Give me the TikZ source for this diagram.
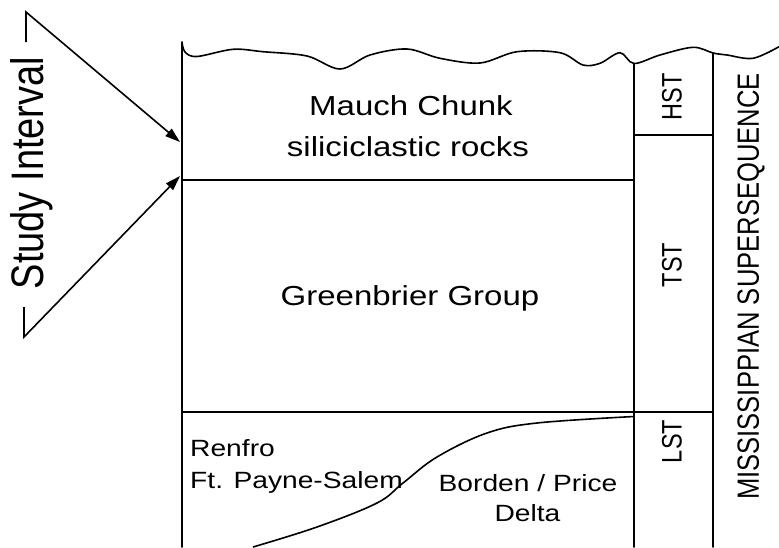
\documentclass[tikz,border=0pt]{standalone}
\usepackage{fontspec}
\setmainfont{Liberation Sans}
\usepackage{graphicx}
\usetikzlibrary{arrows.meta}
\newcommand\HStr[1]{\scalebox{1.2}[1]{#1}}
\newcommand\VStr[1]{\scalebox{1}[1.2]{#1}}
\begin{document}
\begin{tikzpicture}[x=1pt,y=-1pt,
  rule/.style={line width=1.9pt, line cap=round},
  wave/.style={line width=1.6pt, line join=round},
  big/.style={inner sep=0pt, font=\fontsize{27.5}{33}\selectfont},
  mid/.style={inner sep=0pt, font=\fontsize{23.5}{28}\selectfont},
  tract/.style={inner sep=0pt, rotate=90, font=\fontsize{23.5}{28}\selectfont},
  arr/.style={line width=1.6pt, line join=miter, -{Triangle[length=15pt,width=9.5pt]}}]
\useasboundingbox (0,0) rectangle (779,547);
% frame coordinates
\coordinate (tl) at (182,42);
\coordinate (bl) at (182,547);
\coordinate (c1t) at (634,63.5);
\coordinate (c1b) at (634,547);
\coordinate (c2t) at (713,53);
\coordinate (c2b) at (713,547);
\coordinate (m1l) at (182,180);
\coordinate (m1r) at (634,180);
\coordinate (h1l) at (634,135);
\coordinate (h1r) at (713,135);
\coordinate (l1l) at (182,412);
\coordinate (l1r) at (713,412);
% wavy top
\draw[wave] plot[smooth, tension=0.55] coordinates {
 (182,42) (185,52) (197,56.5) (233,49.3) (263,51.7) (307,56) (340,69)
 (370,55) (407,49) (440,58.3) (480,63) (517,51.7) (560,52.7) (583,65)
 (600,63.3) (620,52.7) (634,63.5) (660,55) (693,47.3) (713,53)
 (727,55) (753,58.3) (779,46.7)};
% frame lines
\draw[rule] (tl) -- (bl);
\draw[rule] (c1t) -- (c1b);
\draw[rule] (c2t) -- (c2b);
\draw[rule] (m1l) -- (m1r);
\draw[rule] (h1l) -- (h1r);
\draw[rule] (l1l) -- (l1r);
% delta boundary curve
\draw[wave] plot[smooth, tension=0.6] coordinates {
 (253,547) (317,527) (377,503) (403,483) (437,457) (487,433) (537,423) (634,416.5)};
% texts
\node[big, anchor=base] (mauch) at (411,115) {\HStr{Mauch Chunk}};
\node[big, anchor=base] (silic) at (408,156.7) {\HStr{siliciclastic rocks}};
\node[big, anchor=base] (green) at (410,305) {\HStr{Greenbrier Group}};
\node[mid, anchor=base west] (renfro) at (190,456.7) {\HStr{Renfro}};
\node[mid, anchor=base west] (payne) at (190,488.3) {\HStr{Ft. Payne-Salem}};
\node[mid, anchor=base] (borden) at (528,491.7) {\HStr{Borden / Price}};
\node[mid, anchor=base] (delta) at (527.5,521.7) {\HStr{Delta}};
\node[tract] (hst) at (672,96.7) {\VStr{HST}};
\node[tract] (tst) at (672,265) {\VStr{TST}};
\node[tract] (lst) at (672,441.5) {\VStr{LST}};
\node[inner sep=0pt, rotate=90, font=\fontsize{25.6}{30}\selectfont] (miss) at (751,286.5) {\VStr{MISSISSIPPIAN SUPERSEQUENCE}};
\node[inner sep=0pt, rotate=90, anchor=base, font=\fontsize{38}{44}\selectfont] (study) at (43,173) {\VStr{Study Interval}};
% study interval bracket
\coordinate (sa) at (26,42);
\coordinate (sb) at (26,12);
\coordinate (stip) at (180,142);
\coordinate (sc) at (24,307);
\coordinate (sd) at (24,337);
\coordinate (sbtip) at (180,176);
\draw[arr] (sa) -- (sb) -- (stip);
\draw[arr] (sc) -- (sd) -- (sbtip);
\end{tikzpicture}
\end{document}
